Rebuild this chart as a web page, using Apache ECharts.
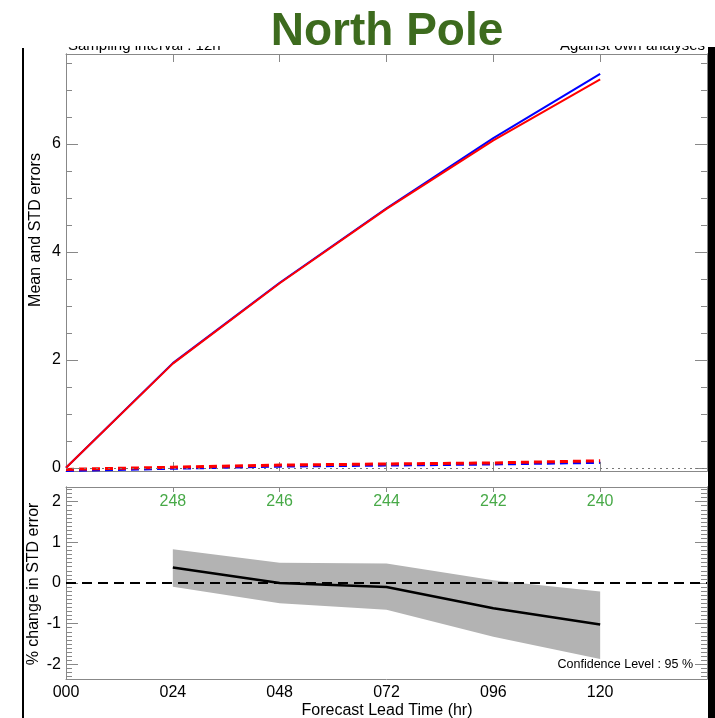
<!DOCTYPE html>
<html>
<head>
<meta charset="utf-8">
<script src="https://cdn.jsdelivr.net/npm/echarts@6/dist/echarts.min.js"></script>
<style>
html,body{margin:0;padding:0;background:#fff;}
#chart{width:715px;height:718px;}
</style>
</head>
<body>
<div id="chart"></div>
<script>
// ---- data ----
const leadTimes = [0, 24, 48, 72, 96, 120];
const stdBlue  = [0, 1.94, 3.43, 4.81, 6.11, 7.30];
const stdRed   = [0, 1.93, 3.42, 4.80, 6.07, 7.20];
const meanBlue = [-0.05, -0.01, 0.03, 0.05, 0.07, 0.10];
const meanRed  = [-0.03, 0.01, 0.05, 0.07, 0.09, 0.13];

const pctLead   = [24, 48, 72, 96, 120];
const pctChange = [0.38, 0.00, -0.10, -0.62, -1.02];
const ciUpper   = [0.83, 0.50, 0.48, 0.07, -0.21];
const ciLower   = [-0.09, -0.50, -0.66, -1.32, -1.87];
const sampleCounts = [248, 246, 244, 242, 240];

const xTickValues = [0, 24, 48, 72, 96, 120];
const xTickLabels = ['000', '024', '048', '072', '096', '120'];
const topMajorTicks = [0, 2, 4, 6];
const topMinorTicks = [0.5, 1, 1.5, 2.5, 3, 3.5, 4.5, 5, 5.5, 6.5, 7, 7.5];
const botMajorTicks = [-2, -1, 0, 1, 2];
const botMinorTicks = [];
for (let i = -23; i <= 23; i++) { if (i % 10 !== 0) botMinorTicks.push(i / 10); }

// ---- layout ----
const FONT = 'Liberation Sans, Arial, Helvetica, sans-serif';
const AXC = '#888';
const topGrid = {left: 66, top: 54, right: 8, height: 417};
const botGrid = {left: 66, top: 487, right: 8, height: 192};
const TOP_MIN = -0.06, TOP_MAX = 7.67;
const BOT_MIN = -2.36, BOT_MAX = 2.36;

function xAx(grid, pos, opts) {
  return Object.assign({
    type: 'value', gridIndex: grid, position: pos, min: 0, max: 144, interval: 24,
    axisLine: {show: true, onZero: false, lineStyle: {color: AXC, width: 1}},
    axisTick: {show: false},
    axisLabel: {show: false},
    splitLine: {show: false}
  }, opts);
}
function yAx(grid, pos, min, max, ticks, len, labels) {
  return {
    type: 'value', gridIndex: grid, position: pos, min: min, max: max,
    axisLine: {show: true, onZero: false, lineStyle: {color: AXC, width: 1}},
    axisTick: {show: true, inside: true, length: len, customValues: ticks, lineStyle: {color: AXC, width: 1}},
    axisLabel: labels ? {show: true, customValues: ticks, margin: 5, fontSize: 16, color: '#000', fontFamily: FONT} : {show: false},
    splitLine: {show: false}
  };
}
const pair = (xs, ys) => xs.map((x, i) => [x, ys[i]]);

const option = {
  animation: false,
  backgroundColor: '#fff',
  grid: [topGrid, botGrid, Object.assign({}, topGrid), Object.assign({}, botGrid)],
  xAxis: [
    xAx(0, 'bottom', {axisTick: {show: true, inside: true, length: 9, lineStyle: {color: AXC}}}),
    xAx(0, 'top', {axisTick: {show: true, inside: true, length: 8, lineStyle: {color: AXC}}}),
    xAx(1, 'bottom', {axisLabel: {show: true, customValues: xTickValues, margin: 6, fontSize: 16, color: '#000', fontFamily: FONT,
      formatter: v => xTickLabels[xTickValues.indexOf(v)] || ''}}),
    xAx(1, 'top', {axisTick: {show: true, inside: true, length: 5, lineStyle: {color: AXC}}}),
    xAx(2, 'bottom', {show: false}),
    xAx(3, 'bottom', {show: false})
  ],
  yAxis: [
    yAx(0, 'left', TOP_MIN, TOP_MAX, topMajorTicks, 12, true),
    yAx(0, 'right', TOP_MIN, TOP_MAX, topMajorTicks, 12, false),
    yAx(1, 'left', BOT_MIN, BOT_MAX, botMajorTicks, 12, true),
    yAx(1, 'right', BOT_MIN, BOT_MAX, botMajorTicks, 12, false),
    yAx(2, 'left', TOP_MIN, TOP_MAX, topMinorTicks, 6, false),
    yAx(2, 'right', TOP_MIN, TOP_MAX, topMinorTicks, 6, false),
    yAx(3, 'left', BOT_MIN, BOT_MAX, botMinorTicks, 6, false),
    yAx(3, 'right', BOT_MIN, BOT_MAX, botMinorTicks, 6, false)
  ],
  series: [
    {type: 'line', xAxisIndex: 0, yAxisIndex: 0, data: pair(leadTimes, meanBlue), symbol: 'none',
     lineStyle: {color: '#0000ff', width: 3, type: [8, 5]},
     markLine: {silent: true, symbol: ['none', 'none'], label: {show: false},
       lineStyle: {color: '#777', width: 1, type: [2, 4]}, data: [{yAxis: 0}]}},
    {type: 'line', xAxisIndex: 0, yAxisIndex: 0, data: pair(leadTimes, meanRed), symbol: 'none',
     lineStyle: {color: '#ff0000', width: 3, type: [8, 5]}},
    {type: 'line', xAxisIndex: 0, yAxisIndex: 0, data: pair(leadTimes, stdBlue), symbol: 'none',
     lineStyle: {color: '#0000ff', width: 2}},
    {type: 'line', xAxisIndex: 0, yAxisIndex: 0, data: pair(leadTimes, stdRed), symbol: 'none',
     lineStyle: {color: '#ff0000', width: 2}},
    // confidence band as one polygon, positioned through the axis scales
    {type: 'custom', xAxisIndex: 2, yAxisIndex: 2, z: 1,
     data: pctLead.map((x, i) => [x, ciLower[i], ciUpper[i]]),
     encode: {x: 0, y: [1, 2]},
     renderItem: function (params, api) {
       if (params.dataIndex !== 0) return null;
       const pts = [];
       for (let i = 0; i < pctLead.length; i++) pts.push(api.coord([pctLead[i], ciUpper[i]]));
       for (let i = pctLead.length - 1; i >= 0; i--) pts.push(api.coord([pctLead[i], ciLower[i]]));
       return {type: 'polygon', shape: {points: pts}, style: {fill: '#b3b3b3', stroke: null}};
     }},
    {type: 'line', xAxisIndex: 2, yAxisIndex: 2, z: 3, data: pair(pctLead, pctChange), symbol: 'none',
     lineStyle: {color: '#000', width: 2.5},
     markLine: {silent: true, symbol: ['none', 'none'], label: {show: false},
       lineStyle: {color: '#000', width: 2, type: [10, 6]}, data: [{yAxis: 0}]}},
    {type: 'scatter', xAxisIndex: 2, yAxisIndex: 2, z: 5, symbolSize: 1, itemStyle: {color: 'rgba(0,0,0,0)'},
     data: pctLead.map((x, i) => [x, 2, sampleCounts[i]]),
     labelLayout: {hideOverlap: false},
     label: {show: true, position: 'inside', formatter: p => String(p.value[2]), color: '#199319', fontSize: 16, fontFamily: FONT}}
  ],
  graphic: [
    {type: 'text', x: 68, y: 46, z: 10, style: {text: 'Sampling interval : 12h', font: '15px ' + FONT, fill: '#000', textAlign: 'left', textVerticalAlign: 'middle'}},
    {type: 'text', x: 560, y: 46, z: 10, style: {text: 'Against own analyses', font: '15px ' + FONT, fill: '#000', textAlign: 'left', textVerticalAlign: 'middle'}},
    {type: 'rect', z: 20, shape: {x: 40, y: 0, width: 675, height: 46}, style: {fill: '#fff'}},
    {type: 'text', x: 387, y: 32, z: 30, style: {text: 'North Pole', font: 'bold 46px ' + FONT, fill: '#3d6b1e', textAlign: 'center', textVerticalAlign: 'middle'}},
    {type: 'text', x: 36, y: 230, z: 10, rotation: Math.PI / 2, style: {text: 'Mean and STD errors', font: '16px ' + FONT, fill: '#000', textAlign: 'center', textVerticalAlign: 'middle'}},
    {type: 'text', x: 34, y: 584, z: 10, rotation: Math.PI / 2, style: {text: '% change in STD error', font: '16px ' + FONT, fill: '#000', textAlign: 'center', textVerticalAlign: 'middle'}},
    {type: 'text', x: 387, y: 711, z: 10, style: {text: 'Forecast Lead Time (hr)', font: '16px ' + FONT, fill: '#000', textAlign: 'center', textVerticalAlign: 'middle'}},
    {type: 'text', x: 693, y: 665, z: 10, style: {text: 'Confidence Level : 95 %', font: '12.5px ' + FONT, fill: '#000', textAlign: 'right', textVerticalAlign: 'middle'}},
    {type: 'rect', z: 40, shape: {x: 22, y: 48, width: 2, height: 670}, style: {fill: '#000'}},
    {type: 'rect', z: 40, shape: {x: 708, y: 47, width: 7, height: 671}, style: {fill: '#000'}}
  ]
};

const chart = echarts.init(document.getElementById('chart'), null, {renderer: 'canvas'});
chart.setOption(option);
</script>
</body>
</html>
